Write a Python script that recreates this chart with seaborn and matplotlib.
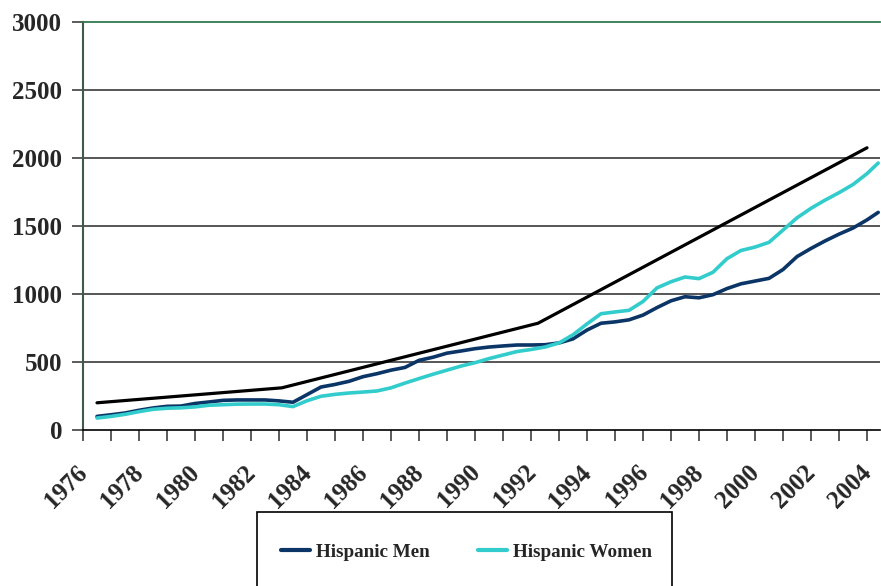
import matplotlib
matplotlib.use("Agg")
import matplotlib.pyplot as plt
import matplotlib.transforms as mtransforms
from matplotlib.patches import Rectangle
from matplotlib.lines import Line2D
import numpy as np
import pandas as pd
import seaborn as sns

# Half-year sample points
years = [1976.5, 1977.0, 1977.5, 1978.0, 1978.5, 1979.0, 1979.5, 1980.0, 1980.5,
         1981.0, 1981.5, 1982.0, 1982.5, 1983.0, 1983.5, 1984.0, 1984.5, 1985.0,
         1985.5, 1986.0, 1986.5, 1987.0, 1987.5, 1988.0, 1988.5, 1989.0, 1989.5,
         1990.0, 1990.5, 1991.0, 1991.5, 1992.0, 1992.5, 1993.0, 1993.5, 1994.0,
         1994.5, 1995.0, 1995.5, 1996.0, 1996.5, 1997.0, 1997.5, 1998.0, 1998.5,
         1999.0, 1999.5, 2000.0, 2000.5, 2001.0, 2001.5, 2002.0, 2002.5, 2003.0,
         2003.5, 2004.0, 2004.4]

hispanic_men = [100, 112, 125, 145, 162, 174, 176, 195, 206,
                218, 221, 221, 221, 214, 204, 260, 316, 335,
                358, 392, 414, 440, 460, 512, 535, 565, 581,
                598, 610, 618, 625, 625, 627, 640, 670, 735,
                785, 795, 810, 845, 900, 950, 980, 972, 995,
                1040, 1075, 1095, 1115, 1180, 1275, 1335, 1390, 1440,
                1485, 1545, 1600]

hispanic_women = [88, 100, 115, 135, 152, 160, 163, 170, 182,
                  186, 190, 191, 191, 186, 172, 215, 248, 262,
                  272, 279, 287, 310, 345, 378, 410, 440, 470,
                  495, 525, 551, 577, 592, 610, 640, 700, 780,
                  855, 868, 880, 945, 1045, 1090, 1125, 1113, 1160,
                  1260, 1320, 1345, 1380, 1470, 1560, 1630, 1690, 1745,
                  1805, 1885, 1963]

# Piecewise trend line
trend_years = [1976.5, 1983.1, 1992.25, 2004.0]
trend_values = [200, 310, 785, 2075]

series_names = ["Hispanic Men", "Hispanic Women"]
series_colors = ["#0b3566", "#33cccc"]

y_ticks = [0, 500, 1000, 1500, 2000, 2500, 3000]
x_tick_years = list(range(1976, 2005))

df = pd.DataFrame({
    "year": years * 2,
    "value": hispanic_men + hispanic_women,
    "series": [series_names[0]] * len(years) + [series_names[1]] * len(years),
})
trend_df = pd.DataFrame({"year": trend_years, "value": trend_values})

sns.set_theme(style="white")
plt.rcParams["font.family"] = ["Liberation Serif", "DejaVu Serif"]
plt.rcParams["font.weight"] = "bold"

W, H = 881, 586
fig = plt.figure(figsize=(W / 100, H / 100), dpi=100)
ax = fig.add_axes([83 / W, (H - 430) / H, (880 - 83) / W, (430 - 22) / H])

sns.lineplot(data=trend_df, x="year", y="value", color="black", lw=2.3,
             ax=ax, legend=False, zorder=3)
sns.lineplot(data=df, x="year", y="value", hue="series", hue_order=series_names,
             palette=series_colors, lw=2.6, ax=ax, legend=False, zorder=4)

ax.set_xlim(1976, 1976 + 797 / 28)
ax.set_ylim(0, 3000)

# Horizontal gridlines
for v in y_ticks[1:-1]:
    ax.axhline(v, color="#3a3a3a", lw=1.2, zorder=1)

ax.set_yticks(y_ticks)
ax.set_yticklabels([str(v) for v in y_ticks], fontsize=18, fontweight="bold")
ax.set_xticks(x_tick_years)
ax.set_xticklabels([str(y) if y % 2 == 0 else "" for y in x_tick_years],
                   fontsize=18, fontweight="bold", rotation=45,
                   ha="right", va="top", rotation_mode="anchor")
ax.tick_params(axis="both", direction="out", length=8, width=1.2,
               color="#404040", bottom=True, left=True)
ax.tick_params(axis="y", pad=7)
ax.tick_params(axis="x", pad=14)

# Nudge the rotated year labels slightly to the left
shift = mtransforms.ScaledTranslation(-7 / 100, 0, fig.dpi_scale_trans)
for lbl in ax.get_xticklabels():
    lbl.set_transform(lbl.get_transform() + shift)

ax.set_xlabel("")
ax.set_ylabel("")

ax.spines["right"].set_visible(False)
ax.spines["left"].set_color("#3f5a4a")
ax.spines["left"].set_linewidth(1.5)
ax.spines["top"].set_color("#2f7a52")
ax.spines["top"].set_linewidth(1.3)
ax.spines["bottom"].set_color("black")
ax.spines["bottom"].set_linewidth(1.2)

# Legend box at the bottom
fig.patches.append(Rectangle((257 / W, -0.05), (672 - 257) / W, (H - 512) / H + 0.05,
                             transform=fig.transFigure, fill=False,
                             edgecolor="black", lw=1.2, zorder=5))
handles = [Line2D([], [], color=c, lw=3) for c in series_colors]
fig.legend(handles, series_names, loc="center left",
           bbox_to_anchor=(281 / W, (H - 552) / H), frameon=False, ncol=2,
           borderpad=0, borderaxespad=0, handlelength=1.5, handletextpad=0.3,
           columnspacing=2.55, prop={"family": "Liberation Serif", "weight": "bold", "size": 13.8})

fig.savefig("out.png", dpi=100)
